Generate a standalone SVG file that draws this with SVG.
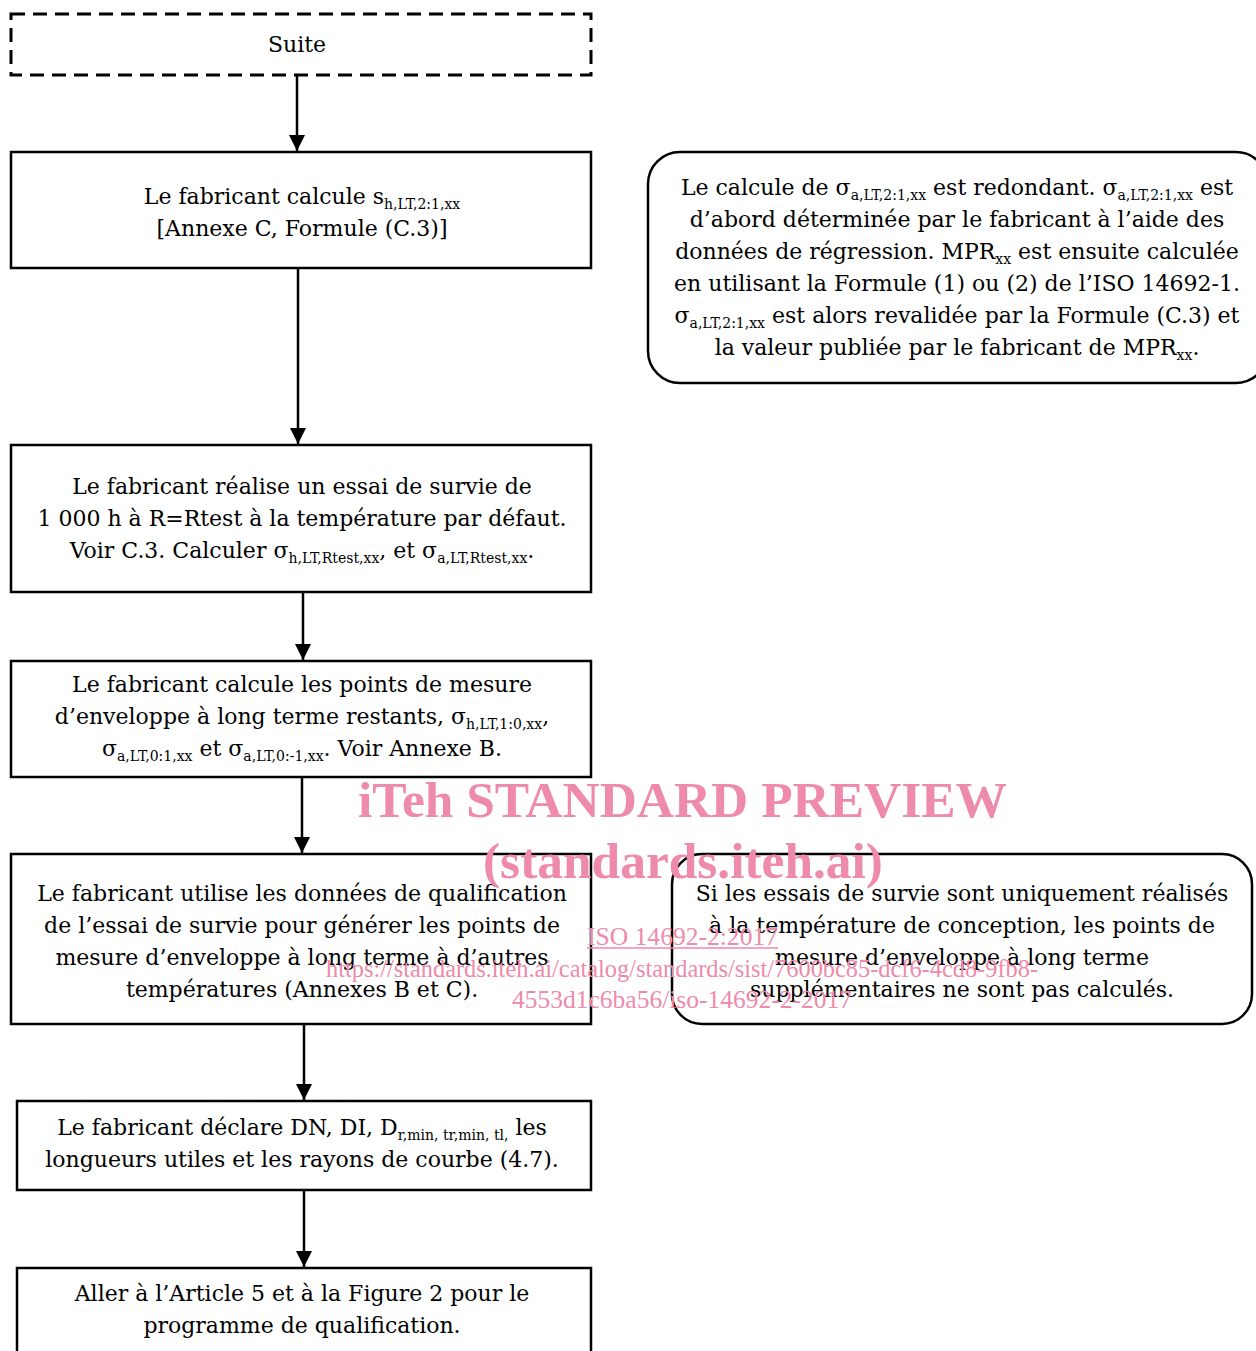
<svg xmlns="http://www.w3.org/2000/svg" width="1256" height="1351" viewBox="0 0 1256 1351">
<style>
.box{fill:#fff;stroke:#000;stroke-width:2.5}
.dash{fill:#fff;stroke:#000;stroke-width:3;stroke-dasharray:14 8}
.t{font-family:"DejaVu Serif","Liberation Serif",serif;font-size:22px;fill:#000;text-anchor:middle}
.s{font-size:14px}
.conn{stroke:#000;stroke-width:2.5;fill:none}
.wm{font-family:"Liberation Serif","Times New Roman",serif;fill:#EE8AAB}
</style>
<defs>
<marker id="ah" markerWidth="16" markerHeight="20" refX="16" refY="10" orient="auto" markerUnits="userSpaceOnUse">
<path d="M0,2 L16,10 L0,18 Z" fill="#000"/>
</marker>
</defs>
<rect width="1256" height="1351" fill="#fff"/>
<g id="connectors">
<line class="conn" x1="297" y1="75" x2="297" y2="151" marker-end="url(#ah)"/>
<line class="conn" x1="298" y1="268" x2="298" y2="444" marker-end="url(#ah)"/>
<line class="conn" x1="303" y1="592" x2="303" y2="660" marker-end="url(#ah)"/>
<line class="conn" x1="302" y1="777" x2="302" y2="853" marker-end="url(#ah)"/>
<line class="conn" x1="304" y1="1024" x2="304" y2="1100" marker-end="url(#ah)"/>
<line class="conn" x1="304" y1="1190" x2="304" y2="1267" marker-end="url(#ah)"/>
</g>
<g id="n_suite">
<rect class="dash" x="11" y="14" width="580" height="61"/>
<text class="t" x="297" y="52">Suite</text>
</g>
<g id="n_calc">
<rect class="box" x="11" y="152" width="580" height="116"/>
<text class="t" x="302" y="204">Le fabricant calcule s<tspan class="s" dy="5">h,LT,2:1,xx</tspan></text>
<text class="t" x="302" y="236">[Annexe C, Formule (C.3)]</text>
</g>
<g id="n_note1">
<rect class="box" x="648" y="152" width="620" height="231" rx="32"/>
<text class="t" x="957" y="195">Le calcule de σ<tspan class="s" dy="5">a,LT,2:1,xx</tspan><tspan dy="-5"> est redondant. σ</tspan><tspan class="s" dy="5">a,LT,2:1,xx</tspan><tspan dy="-5"> est</tspan></text>
<text class="t" x="957" y="227">d’abord déterminée par le fabricant à l’aide des</text>
<text class="t" x="957" y="259">données de régression. MPR<tspan class="s" dy="5">xx</tspan><tspan dy="-5"> est ensuite calculée</tspan></text>
<text class="t" x="957" y="291">en utilisant la Formule (1) ou (2) de l’ISO 14692-1.</text>
<text class="t" x="957" y="323">σ<tspan class="s" dy="5">a,LT,2:1,xx</tspan><tspan dy="-5"> est alors revalidée par la Formule (C.3) et</tspan></text>
<text class="t" x="957" y="355">la valeur publiée par le fabricant de MPR<tspan class="s" dy="5">xx</tspan><tspan dy="-5">.</tspan></text>
</g>
<g id="n_survie">
<rect class="box" x="11" y="445" width="580" height="147"/>
<text class="t" x="302" y="494">Le fabricant réalise un essai de survie de</text>
<text class="t" x="302" y="526">1 000 h à R=Rtest à la température par défaut.</text>
<text class="t" x="302" y="558">Voir C.3. Calculer σ<tspan class="s" dy="5">h,LT,Rtest,xx</tspan><tspan dy="-5">, et σ</tspan><tspan class="s" dy="5">a,LT,Rtest,xx</tspan><tspan dy="-5">.</tspan></text>
</g>
<g id="n_points">
<rect class="box" x="11" y="661" width="580" height="116"/>
<text class="t" x="302" y="692">Le fabricant calcule les points de mesure</text>
<text class="t" x="302" y="724">d’enveloppe à long terme restants, σ<tspan class="s" dy="5">h,LT,1:0,xx</tspan><tspan dy="-5">,</tspan></text>
<text class="t" x="302" y="756">σ<tspan class="s" dy="5">a,LT,0:1,xx</tspan><tspan dy="-5"> et σ</tspan><tspan class="s" dy="5">a,LT,0:-1,xx</tspan><tspan dy="-5">. Voir Annexe B.</tspan></text>
</g>
<g id="n_qualif">
<rect class="box" x="11" y="854" width="580" height="170"/>
<text class="t" x="302" y="901">Le fabricant utilise les données de qualification</text>
<text class="t" x="302" y="933">de l’essai de survie pour générer les points de</text>
<text class="t" x="302" y="965">mesure d’enveloppe à long terme à d’autres</text>
<text class="t" x="302" y="997">températures (Annexes B et C).</text>
</g>
<g id="n_note2">
<rect class="box" x="672" y="854" width="580" height="170" rx="30"/>
<text class="t" x="962" y="901">Si les essais de survie sont uniquement réalisés</text>
<text class="t" x="962" y="933">à la température de conception, les points de</text>
<text class="t" x="962" y="965">mesure d’enveloppe à long terme</text>
<text class="t" x="962" y="997">supplémentaires ne sont pas calculés.</text>
</g>
<g id="n_declare">
<rect class="box" x="17" y="1101" width="574" height="89"/>
<text class="t" x="302" y="1135">Le fabricant déclare DN, DI, D<tspan class="s" dy="5">r,min, tr,min, tl,</tspan><tspan dy="-5"> les</tspan></text>
<text class="t" x="302" y="1167">longueurs utiles et les rayons de courbe (4.7).</text>
</g>
<g id="n_aller">
<rect class="box" x="17" y="1268" width="574" height="100"/>
<text class="t" x="302" y="1301">Aller à l’Article 5 et à la Figure 2 pour le</text>
<text class="t" x="302" y="1333">programme de qualification.</text>
</g>
<g id="watermark">
<text class="wm" x="358" y="817" font-size="50" font-weight="bold" textLength="649" lengthAdjust="spacingAndGlyphs">iTeh STANDARD PREVIEW</text>
<text class="wm" x="483" y="878" font-size="50" font-weight="bold" textLength="400" lengthAdjust="spacingAndGlyphs">(standards.iteh.ai)</text>
<text class="wm" x="587" y="945" font-size="25" textLength="191" lengthAdjust="spacingAndGlyphs">ISO 14692-2:2017</text>
<line x1="587" y1="948" x2="778" y2="948" stroke="#EE8AAB" stroke-width="1.5"/>
<text class="wm" x="326" y="977" font-size="25" textLength="712" lengthAdjust="spacingAndGlyphs">https://standards.iteh.ai/catalog/standards/sist/7600bc85-dcf6-4cd8-9fb8-</text>
<text class="wm" x="512" y="1008" font-size="25" textLength="340" lengthAdjust="spacingAndGlyphs">4553d1c6ba56/iso-14692-2-2017</text>
</g>
</svg>
